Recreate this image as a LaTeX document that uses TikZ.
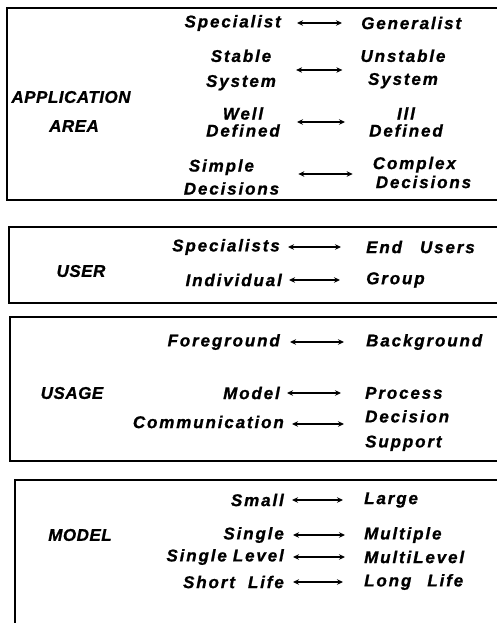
\documentclass[tikz,border=0pt]{standalone}
\usepackage{fontspec}
\usetikzlibrary{arrows.meta}
\newfontfamily\labfont[LetterSpace=11,FakeBold=1]{Liberation Sans}
\newfontfamily\headfont[LetterSpace=3,FakeBold=1]{Liberation Sans}
\begin{document}
\begin{tikzpicture}[x=1pt,y=-1pt,
  lab/.style={font=\labfont\bfseries\itshape\fontsize{17}{19}\selectfont, inner sep=0pt, align=center},
  head/.style={font=\headfont\bfseries\itshape\fontsize{17}{19}\selectfont, inner sep=0pt},
  arr/.style={{Stealth[length=6pt,width=5.5pt]}-{Stealth[length=6pt,width=5.5pt]}, line width=1.6pt},
  boxline/.style={line width=1.2pt}]
\useasboundingbox (0,0) rectangle (497,623);
\clip (0,0) rectangle (497,623);
% boxes
\draw[boxline] (510,8) -| (7,200) -- (510,200);
\draw[boxline] (510,227) -| (9,303) -- (510,303);
\draw[boxline] (510,317) -| (10,461) -- (510,461);
\draw[boxline] (510,480) -| (15,640);
% box 1
\node[head] (app) at (71,97) {APPLICATION};
\node[head] (area) at (74,126) {AREA};
\node[lab,anchor=east] (spec) at (281,23) {Specialist};
\node[lab,anchor=west] (gen) at (361,23) {Generalist};
\node[lab] (stab) at (241,70) {Stable\\[6pt]System};
\node[lab] (unst) at (403,69) {Unstable\\[4pt]System};
\node[lab] (well) at (243,122) {Well\\[-2pt]Defined};
\node[lab] (ill) at (406,122) {Ill\\[-2pt]Defined};
\node[lab,align=left] (simp) at (231.5,177) {\hspace*{5pt}Simple\\[4pt]Decisions};
\node[lab,align=left] (comp) at (422,172.5) {Complex\\[0pt]\hspace*{3pt}Decisions};
\draw[arr] ([xshift=16pt]spec.east) -- ([xshift=-19pt]spec.east -| gen.west);
\draw[arr] ([xshift=20pt]stab.east) -- ([xshift=-18pt]stab.east -| unst.west);
\draw[arr] ([xshift=17pt]well.east) -- ([xshift=-24pt]well.east -| ill.west);
\draw[arr] ([xshift=19pt,yshift=3pt]simp.east) -- ([xshift=-20pt,yshift=3pt]simp.east -| comp.west);
% box 2
\node[head] (user) at (81,271) {USER};
\node[lab,anchor=east] (specs) at (280,247) {Specialists};
\node[lab,anchor=west] (end) at (366,247) {End\hspace{18pt}Users};
\node[lab,anchor=east] (indiv) at (282,280) {Individual};
\node[lab,anchor=west] (group) at (366,280) {Group};
\draw[arr] ([xshift=8pt]specs.east) -- ([xshift=-25pt]specs.east -| end.west);
\draw[arr] ([xshift=7pt]indiv.east) -- ([xshift=-26pt]indiv.east -| group.west);
% box 3
\node[head] (usage) at (72,393) {USAGE};
\node[lab,anchor=east] (fore) at (280,342) {Foreground};
\node[lab,anchor=west] (back) at (366,342) {Background};
\node[lab,anchor=east] (model) at (280,393) {Model};
\node[lab,anchor=west] (proc) at (365,393) {Process};
\node[lab,anchor=east] (comm) at (284,422) {Communication};
\node[lab,align=left,anchor=west] (dec) at (365,430.5) {Decision\\[6pt]Support};
\draw[arr] ([xshift=10pt]fore.east) -- ([xshift=-22pt]fore.east -| back.west);
\draw[arr] ([xshift=7pt]model.east) -- ([xshift=-24pt]model.east -| proc.west);
\draw[arr] ([xshift=8pt,yshift=-2pt]comm.east) -- ([xshift=-21pt,yshift=-2pt]comm.east -| dec.west);
% box 4
\node[head] (mod) at (80,535) {MODEL};
\node[lab,anchor=east] (small) at (284,500) {Small};
\node[lab,anchor=west] (large) at (364,500) {Large};
\node[lab,anchor=east] (single) at (284,535) {Single};
\node[lab,anchor=west] (mult) at (364,535) {Multiple};
\node[lab,anchor=east] (slevel) at (284,557) {Single\hspace{6pt}Level};
\node[lab,anchor=west] (mlevel) at (364,557) {MultiLevel};
\node[lab,anchor=east] (short) at (284,582) {Short\hspace{13pt}Life};
\node[lab,anchor=west] (long) at (364,582) {Long\hspace{16pt}Life};
\draw[arr] ([xshift=8pt]small.east) -- ([xshift=-21pt]small.east -| large.west);
\draw[arr] ([xshift=9pt]single.east) -- ([xshift=-19pt]single.east -| mult.west);
\draw[arr] ([xshift=9pt]slevel.east) -- ([xshift=-19pt]slevel.east -| mlevel.west);
\draw[arr] ([xshift=9pt]short.east) -- ([xshift=-21pt]short.east -| long.west);
\end{tikzpicture}
\end{document}
